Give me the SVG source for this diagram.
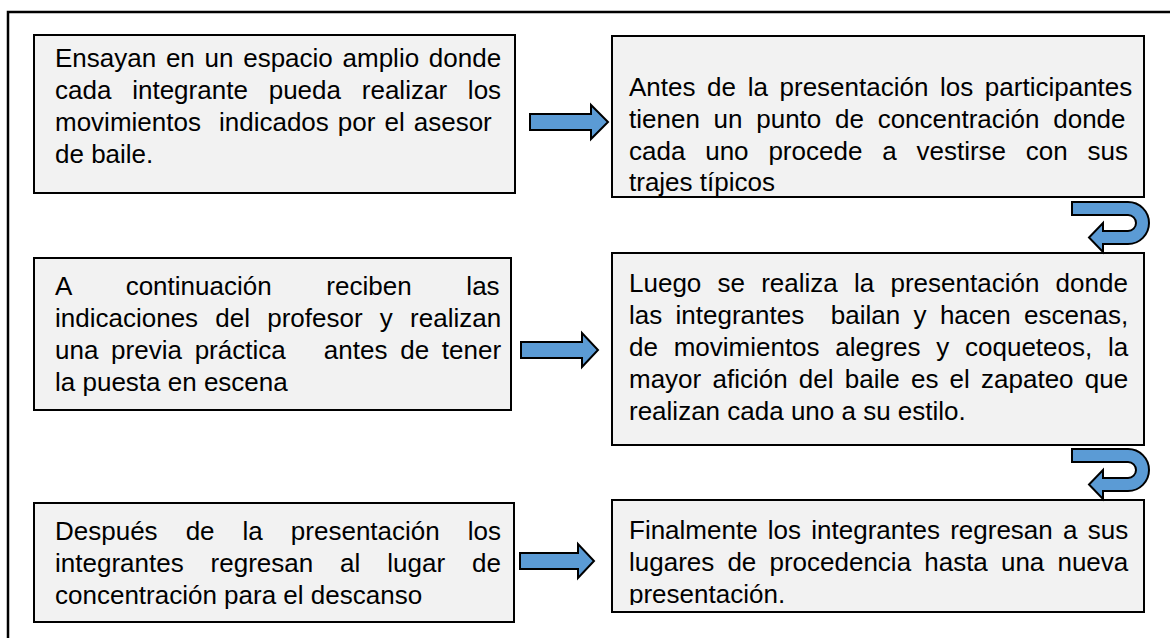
<svg xmlns="http://www.w3.org/2000/svg" width="1170" height="638" viewBox="0 0 1170 638">
<style>
.box{fill:#F2F2F2;stroke:#000;stroke-width:2}
.arr{fill:#5B9BD5;stroke:#000;stroke-width:2;stroke-linejoin:miter}
text{font-family:"Liberation Sans",Arial,sans-serif;font-size:26px;fill:#000}
</style>
<defs>
<clipPath id="clip6"><rect x="612" y="500" width="532" height="105"/></clipPath>
</defs>
<rect x="0" y="0" width="1170" height="638" fill="#fff"/>
<rect x="8" y="12" width="1180" height="640" fill="none" stroke="#000" stroke-width="2.5"/>
<g id="n1"><rect class="box" x="34" y="35" width="481" height="158"/>
<text x="55" y="67" word-spacing="2.5">Ensayan en un espacio amplio donde</text>
<text x="55" y="99" word-spacing="13.6">cada integrante pueda realizar los</text>
<text x="55" y="131" xml:space="preserve" word-spacing="1.8">movimientos  indicados por el asesor</text>
<text x="55" y="163">de baile.</text></g>
<g id="n2"><rect class="box" x="612" y="36" width="532" height="161"/>
<text x="629" y="96" word-spacing="4.4">Antes de la presentación los participantes</text>
<text x="629" y="128" word-spacing="6.5">tienen un punto de concentración donde</text>
<text x="629" y="160" word-spacing="12.6">cada uno procede a vestirse con sus</text>
<text x="629" y="191">trajes típicos</text></g>
<g id="n3"><rect class="box" x="34" y="258" width="477" height="152"/>
<text x="55" y="295" word-spacing="47.5">A continuación reciben las</text>
<text x="55" y="327" word-spacing="10">indicaciones del profesor y realizan</text>
<text x="55" y="359" xml:space="preserve" word-spacing="5.5">una previa práctica   antes de tener</text>
<text x="55" y="391">la puesta en escena</text></g>
<g id="n4"><rect class="box" x="612" y="253" width="532" height="192"/>
<text x="629" y="292" word-spacing="9">Luego se realiza la presentación donde</text>
<text x="629" y="324" xml:space="preserve" word-spacing="6.1">las integrantes  bailan y hacen escenas,</text>
<text x="629" y="356" word-spacing="8.5">de movimientos alegres y coqueteos, la</text>
<text x="629" y="388" word-spacing="4">mayor afición del baile es el zapateo que</text>
<text x="629" y="420">realizan cada uno a su estilo.</text></g>
<g id="n5"><rect class="box" x="34" y="503" width="480" height="119"/>
<text x="55" y="540" word-spacing="20.8">Después de la presentación los</text>
<text x="55" y="572" word-spacing="19.7">integrantes regresan al lugar de</text>
<text x="55" y="604">concentración para el descanso</text></g>
<g id="n6"><rect class="box" x="612" y="500" width="532" height="112"/>
<text x="629" y="539" word-spacing="3">Finalmente los integrantes regresan a sus</text>
<text x="629" y="571" word-spacing="5.9">lugares de procedencia hasta una nueva</text>
<text x="629" y="603" clip-path="url(#clip6)">presentación.</text></g>
<g id="connectors">
<path class="arr" d="M530,114 H591 V105 L608,122 L591,139 V130 H530 Z"/>
<path class="arr" d="M521,342 H582 V333 L598,350 L582,367 V358 H521 Z"/>
<path class="arr" d="M520,553 H578 V544 L594,561 L578,578 V569 H520 Z"/>
<path class="arr" d="M1072,202 H1128 A21,21 0 0 1 1128,244 H1103 V252 L1089,237.5 L1103,223 V231 H1128 A8,8 0 0 0 1128,215 H1072 Z"/>
<path class="arr" d="M1072,449 H1128 A21,21 0 0 1 1128,491 H1103 V499 L1089,484.5 L1103,470 V478 H1128 A8,8 0 0 0 1128,462 H1072 Z"/>
</g>
</svg>
